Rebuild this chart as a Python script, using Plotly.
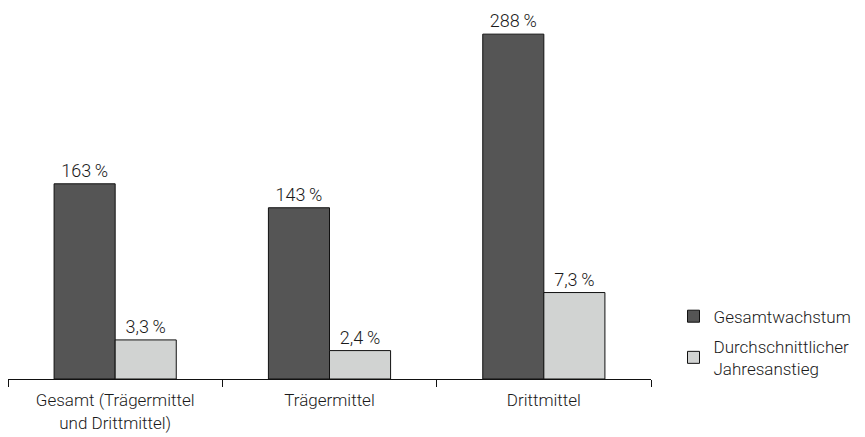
import plotly.graph_objects as go

categories = ["Gesamt (Trägermittel<br>und Drittmittel)", "Trägermittel", "Drittmittel"]
gesamtwachstum = [163, 143, 288]
jahresanstieg = [3.3, 2.4, 7.3]
series_names = ["Gesamtwachstum", "Durchschnittlicher<br>Jahresanstieg"]

def fmt(v):
    s = f"{v:g}".replace(".", ",")
    return s + "\u2009%"

FONT = "Roboto"
FS = 17
TXT = "#1a1a1a"

fig = go.Figure()
fig.add_trace(go.Bar(
    x=categories, y=gesamtwachstum, name=series_names[0], legendgroup="g1",
    marker=dict(color="#555555", line=dict(color="#111111", width=1)),
    text=[fmt(v) for v in gesamtwachstum], textposition="outside",
    textfont=dict(family=FONT, size=18, color=TXT, weight=300),
    offsetgroup="1", yaxis="y", cliponaxis=False,
))
fig.add_trace(go.Bar(
    x=categories, y=jahresanstieg, name=series_names[1], legendgroup="g2",
    marker=dict(color="#d1d3d2", line=dict(color="#111111", width=1)),
    text=[fmt(v) for v in jahresanstieg], textposition="outside",
    textfont=dict(family=FONT, size=18, color=TXT, weight=300),
    offsetgroup="2", yaxis="y2", cliponaxis=False,
))

fig.update_layout(
    width=865, height=437,
    margin=dict(l=8, r=214, t=0, b=58),
    plot_bgcolor="white", paper_bgcolor="white",
    barmode="group", bargap=0.43, bargroupgap=0,
    font=dict(family=FONT, size=FS, color=TXT, weight=300),
    xaxis=dict(
        showline=True, linecolor="#111111", linewidth=1,
        ticks="outside", tickson="boundaries", ticklen=7, tickcolor="#111111",
        ticklabelstandoff=6,
        showgrid=False, tickfont=dict(family=FONT, size=FS, color=TXT, weight=300),
    ),
    yaxis=dict(range=[0, 316.5], visible=False, showgrid=False),
    yaxis2=dict(range=[0, 32.0], overlaying="y", visible=False, showgrid=False),
    legend=dict(
        x=1.035, xanchor="left", y=0.212, yanchor="top",
        font=dict(family=FONT, size=FS, color=TXT, weight=300),
        bgcolor="rgba(0,0,0,0)", tracegroupgap=5, itemwidth=30,
    ),
    showlegend=True,
)

fig.write_html("out.html")
